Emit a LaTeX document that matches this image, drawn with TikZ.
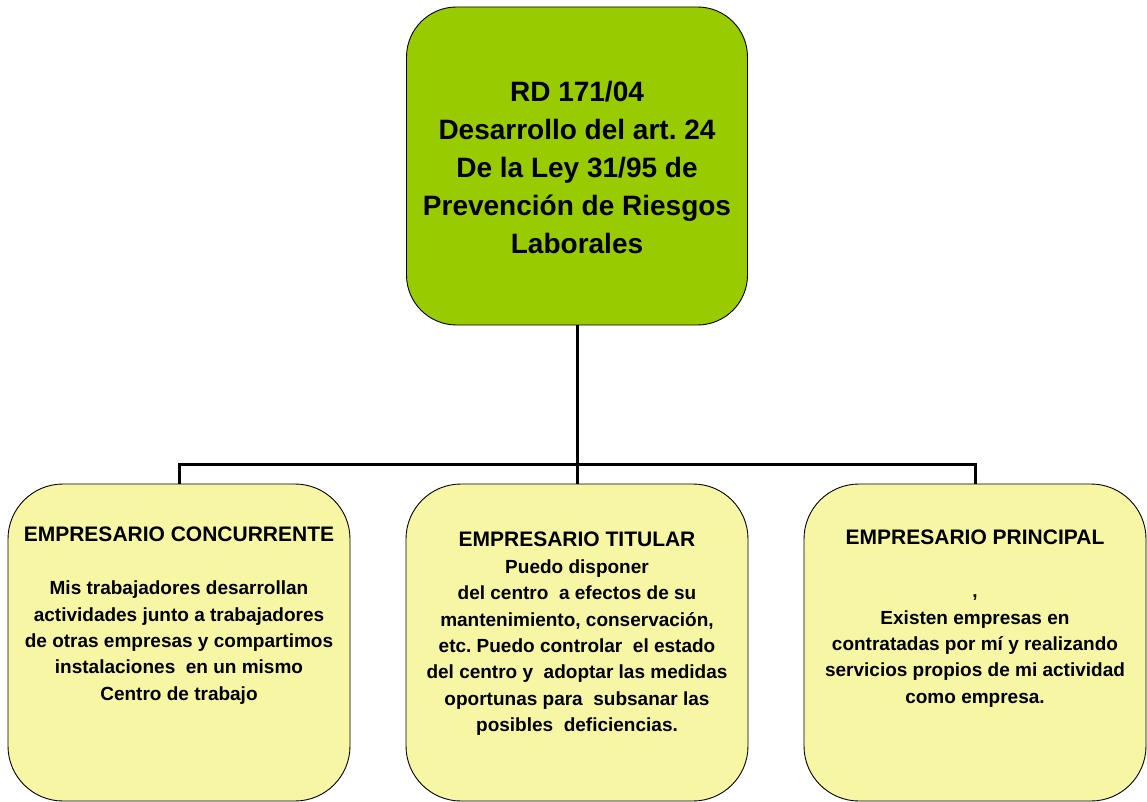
\documentclass[tikz,border=0pt]{standalone}
\usepackage{fontspec}
\setmainfont{Liberation Sans}
\frenchspacing
\definecolor{topgreen}{RGB}{153,204,0}
\definecolor{boxyellow}{RGB}{247,246,165}
\newcommand{\boxtitle}[1]{{\fontsize{21}{26.4}\selectfont #1}}
\tikzset{
  topbox/.style={draw=black, line width=0.9pt, fill=topgreen, rounded corners=50pt,
    minimum width=341pt, minimum height=318pt, inner sep=0pt},
  subbox/.style={draw=black, line width=0.9pt, fill=boxyellow, rounded corners=55pt,
    minimum width=342pt, minimum height=317pt, inner sep=0pt},
  toptext/.style={anchor=north, inner sep=0pt, align=center,
    font=\fontsize{28}{37.8}\selectfont\bfseries},
  subtext/.style={anchor=north, inner sep=0pt, align=center,
    font=\fontsize{19}{26.4}\selectfont\bfseries},
  conn/.style={draw=black, line width=3pt}
}
\begin{document}
\begin{tikzpicture}[x=1pt,y=-1pt]
\useasboundingbox (0,0) rectangle (1147,802);
% boxes
\node[topbox] (top) at (577,166) {};
\node[subbox] (left) at (179,642.5) {};
\node[subbox] (mid) at (577,642.5) {};
\node[subbox] (right) at (975,642.5) {};
% connectors
\coordinate (j) at (577,464);
\draw[conn] (top.south) -- (j);
\draw[conn] (left.north) |- (j);
\draw[conn] (right.north) |- (j);
\draw[conn] (mid.north) -- (j);
% texts
\node[toptext] (toptxt) at (577,81.5) {RD 171/04\\Desarrollo del art. 24\\De la Ley 31/95 de\\Prevención de Riesgos\\Laborales};
\node[subtext] (lefttxt) at (179,527) {\boxtitle{EMPRESARIO CONCURRENTE}\\[26.4pt]Mis trabajadores desarrollan\\actividades junto a trabajadores\\de otras empresas y compartimos\\instalaciones\ \ en un mismo\\Centro de trabajo};
\node[subtext] (midtxt) at (577,532) {\boxtitle{EMPRESARIO TITULAR}\\Puedo disponer\hspace*{5pt}\\del centro\ \ a efectos de su\\mantenimiento, conservación,\\etc. Puedo controlar\ \ el estado\\del centro y\ \ adoptar las medidas\hspace*{5pt}\\oportunas para\ \ subsanar las\\posibles\ \ deficiencias.};
\node[subtext] (righttxt) at (975,530) {\boxtitle{EMPRESARIO PRINCIPAL}\\[26.4pt],\\Existen empresas en\\contratadas por mí y realizando\\servicios propios de mi actividad\\como empresa.};
\end{tikzpicture}
\end{document}
